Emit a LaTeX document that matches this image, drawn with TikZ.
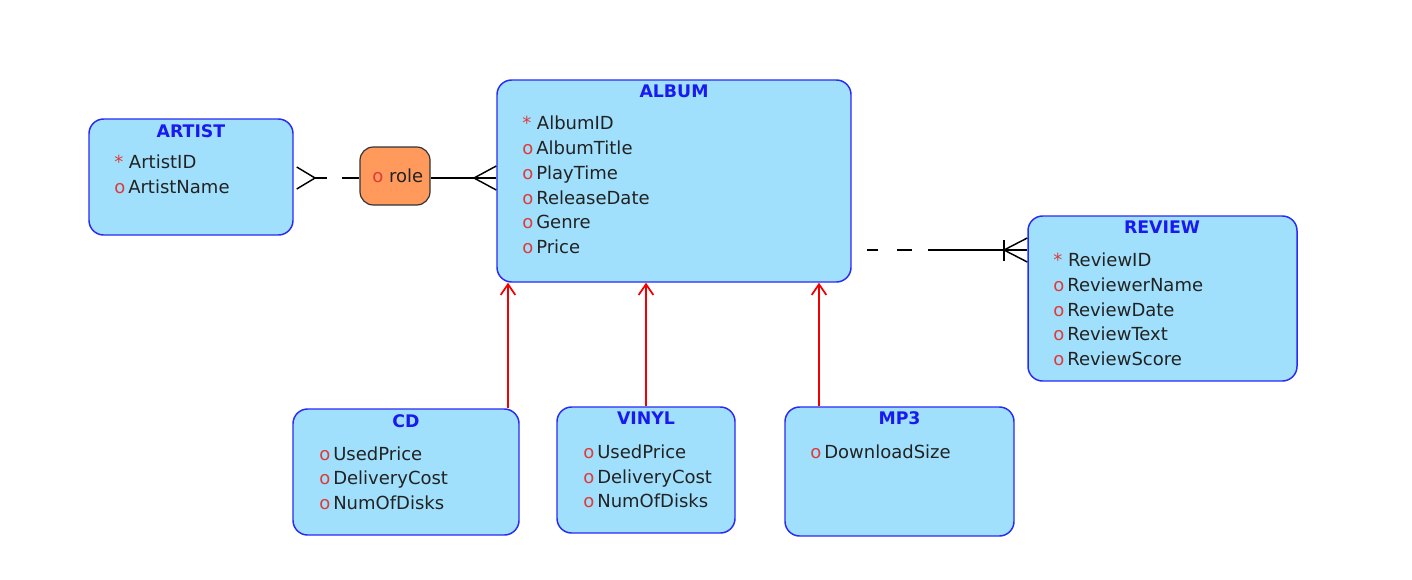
\documentclass[tikz,border=0pt]{standalone}
\usepackage{fontspec}
\setmainfont{DejaVu Sans}
\usetikzlibrary{arrows.meta,calc}
\definecolor{boxfill}{HTML}{A0E0FC}
\definecolor{boxline}{HTML}{2A2AF5}
\definecolor{titleblue}{HTML}{1A1AF0}
\definecolor{mark}{HTML}{E03A3A}
\definecolor{rolefill}{HTML}{FF9A5C}
\definecolor{txt}{HTML}{222222}
\tikzset{
  entity/.style={draw=boxline, line width=1.1pt, fill=boxfill, rounded corners=11pt, inner sep=0pt},
  ttl/.style={font=\fontsize{13}{14}\selectfont\bfseries, text=titleblue, inner sep=0pt, anchor=base},
  attr/.style={font=\fontsize{13.5}{14}\selectfont, text=txt, inner sep=0pt, anchor=base west},
  relbox/.style={draw=black!80, line width=0.9pt, fill=rolefill, rounded corners=10pt, inner sep=0pt},
  conn/.style={line width=1.1pt, black},
  isa/.style={line width=1.3pt, red!95!black, -{Straight Barb[length=8pt,width=11pt,line width=1.3pt]}},
}
\newcommand{\mk}[1]{\textcolor{mark}{#1}}
\begin{document}
\begin{tikzpicture}[x=0.75pt,y=-0.75pt]
\useasboundingbox (0,0) rectangle (1412,579);
% entities
\node[entity, minimum width=153pt, minimum height=87pt] (artist) at (191,177) {};
\node[relbox, minimum width=52.5pt, minimum height=43.5pt] (role) at (395,176) {};
\node[entity, minimum width=265.5pt, minimum height=151.5pt] (album) at (674,181) {};
\node[entity, minimum width=201.75pt, minimum height=123.75pt] (review) at (1162.5,298.5) {};
\node[entity, minimum width=169.5pt, minimum height=94.5pt] (cd) at (406,472) {};
\node[entity, minimum width=133.5pt, minimum height=94.5pt] (vinyl) at (646,470) {};
\node[entity, minimum width=171.75pt, minimum height=96.75pt] (mp3) at (899.5,471.5) {};
% titles
\node[ttl] (tartist) at (191,137) {ARTIST};
\node[ttl] (talbum) at (674,97) {ALBUM};
\node[ttl] (treview) at (1162,233) {REVIEW};
\node[ttl] (tcd) at (406,427) {CD};
\node[ttl] (tvinyl) at (646,424) {VINYL};
\node[ttl] (tmp3) at (899.5,424) {MP3};
% attributes
\node[attr] (a1) at (114,168) {\mk{*} ArtistID};
\node[attr] (a2) at (114,193) {\mk{o}\,ArtistName};
\node[attr] (r1) at (372,182) {\mk{o} role};
\node[attr] (b1) at (522,129) {\mk{*} AlbumID};
\node[attr] (b2) at (522,154) {\mk{o}\,AlbumTitle};
\node[attr] (b3) at (522,179) {\mk{o}\,PlayTime};
\node[attr] (b4) at (522,204) {\mk{o}\,ReleaseDate};
\node[attr] (b5) at (522,228) {\mk{o}\,Genre};
\node[attr] (b6) at (522,253) {\mk{o}\,Price};
\node[attr] (v1) at (1053,266) {\mk{*} ReviewID};
\node[attr] (v2) at (1053,291) {\mk{o}\,ReviewerName};
\node[attr] (v3) at (1053,316) {\mk{o}\,ReviewDate};
\node[attr] (v4) at (1053,340) {\mk{o}\,ReviewText};
\node[attr] (v5) at (1053,365) {\mk{o}\,ReviewScore};
\node[attr] (c1) at (319,460) {\mk{o}\,UsedPrice};
\node[attr] (c2) at (319,484) {\mk{o}\,DeliveryCost};
\node[attr] (c3) at (319,509) {\mk{o}\,NumOfDisks};
\node[attr] (n1) at (583,458) {\mk{o}\,UsedPrice};
\node[attr] (n2) at (583,483) {\mk{o}\,DeliveryCost};
\node[attr] (n3) at (583,507) {\mk{o}\,NumOfDisks};
\node[attr] (m1) at (810,458) {\mk{o}\,DownloadSize};
% artist -- role
\coordinate (ae) at (artist.east |- 0,178);
\coordinate (ra) at (315,178);
\coordinate (rw) at (role.west |- 0,178);
\draw[conn] ($(ae)+(3,-11)$) -- (ra) -- ($(ae)+(3,11)$);
\draw[conn] (ra) -- (327,178);
\draw[conn] (342,178) -- (rw);
% role -- album
\coordinate (re) at (role.east |- 0,178);
\coordinate (aw) at (album.west |- 0,178);
\coordinate (aa) at (474,178);
\draw[conn] (re) -- (aw);
\draw[conn] ($(aw)+(0,-12)$) -- (aa) -- ($(aw)+(0,12)$);
% album -- review
\coordinate (ale) at (album.east |- 0,250);
\coordinate (rvw) at (review.west |- 0,250);
\coordinate (rap) at (1004,250);
\draw[conn] (867,250) -- (878,250);
\draw[conn] (897,250) -- (912,250);
\draw[conn] (928,250) -- (rvw);
\draw[conn] (1004,240) -- (1004,261);
\draw[conn] ($(rvw)+(0,-12)$) -- (rap) -- ($(rvw)+(0,12)$);
% subtype arrows
\draw[isa] (cd.north -| 508,0) -- (album.south -| 508,0);
\draw[isa] (vinyl.north) -- (album.south -| vinyl.north);
\draw[isa] (mp3.north -| 819,0) -- (album.south -| 819,0);
\end{tikzpicture}
\end{document}
